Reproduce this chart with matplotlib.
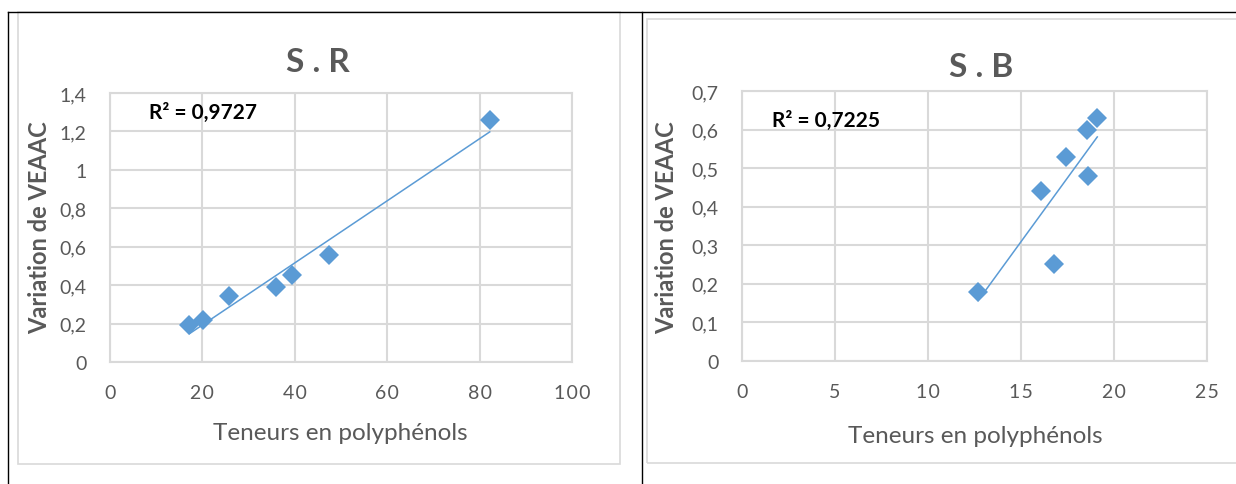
import matplotlib
matplotlib.use('Agg')
import matplotlib.pyplot as plt
import numpy as np
from matplotlib.lines import Line2D
from matplotlib.patches import Rectangle

# data
sr_x = [17.2, 20.2, 25.7, 35.9, 39.3, 47.4, 82.2]
sr_y = [0.19, 0.22, 0.345, 0.39, 0.455, 0.555, 1.26]
sb_x = [12.7, 16.1, 16.8, 17.4, 18.55, 18.6, 19.1]
sb_y = [0.178, 0.44, 0.251, 0.529, 0.60, 0.48, 0.631]

sr_xticks = [0, 20, 40, 60, 80, 100]
sr_yticks = [0, 0.2, 0.4, 0.6, 0.8, 1.0, 1.2, 1.4]
sb_xticks = [0, 5, 10, 15, 20, 25]
sb_yticks = [0, 0.1, 0.2, 0.3, 0.4, 0.5, 0.6, 0.7]

BLUE = '#5b9bd5'
GRID = '#d9d9d9'
TXT = '#595959'
plt.rcParams['font.family'] = ['Lato', 'DejaVu Sans']

W, H = 1236, 485
fig = plt.figure(figsize=(W / 100, H / 100), dpi=100, facecolor='white')


def px(x0, y0, x1, y1):
    # pixel box (top-left origin) -> figure fraction rect
    return [x0 / W, 1 - y1 / H, (x1 - x0) / W, (y1 - y0) / H]


def fmt(v, spaced=False):
    s = ('%g' % v).replace('.', ',')
    if spaced:
        s = '\u200a'.join(s)   # Excel draws these with loose tracking
    return s


def panel(rect, xs, ys, xticks, yticks, title, r2, r2pos, tpos, ylpos, xlpos):
    ax = fig.add_axes(rect)
    ax.set_xlim(xticks[0], xticks[-1])
    ax.set_ylim(yticks[0], yticks[-1])
    ax.set_xticks(xticks)
    ax.set_yticks(yticks)
    ax.set_xticklabels([fmt(v, True) for v in xticks])
    ax.set_yticklabels([fmt(v) for v in yticks])
    ax.tick_params(length=0, labelsize=14, colors=TXT)
    ax.tick_params(axis='x', pad=16)
    ax.tick_params(axis='y', pad=17)
    ax.grid(True, color=GRID, linewidth=1.5)
    ax.set_axisbelow(True)
    for s in ax.spines.values():
        s.set_color(GRID)
        s.set_linewidth(1.5)

    # linear trendline over data range
    a, b = np.polyfit(xs, ys, 1)
    xx = np.array([min(xs), max(xs)])
    ax.plot(xx, a * xx + b, color=BLUE, linewidth=1.1, zorder=2)
    ax.plot(xs, ys, linestyle='none', marker='D', markersize=10,
            color=BLUE, markeredgewidth=0, zorder=3)

    ax.text(r2pos[0], r2pos[1], 'R² = ' + r2, fontsize=15,
            fontweight='bold', color='black', va='center', ha='left')
    fig.text(tpos[0] / W, 1 - tpos[1] / H, title, fontsize=24,
             fontweight='bold', color=TXT, ha='center', va='center')
    fig.text(ylpos[0] / W, 1 - ylpos[1] / H, 'Variation de VEAAC',
             fontsize=17, fontweight='bold', color=TXT, rotation=90,
             ha='center', va='center')
    fig.text(xlpos[0] / W, 1 - xlpos[1] / H, 'Teneurs en polyphénols',
             fontsize=17.5, color=TXT, ha='center', va='center')
    return ax


# document table borders and chart frames
fig.add_artist(Line2D([8 / W, 1], [1 - 13 / H] * 2, color='black', lw=1))
fig.add_artist(Line2D([8 / W] * 2, [0, 1 - 13 / H], color='black', lw=1))
fig.add_artist(Line2D([642 / W] * 2, [0, 1 - 13 / H], color='black', lw=1))
fig.add_artist(Rectangle((18 / W, 1 - 465 / H), 602 / W, 452 / H,
                         fill=False, edgecolor=GRID, lw=1.2))
fig.add_artist(Rectangle((647 / W, 1 - 464 / H), 600 / W, 444 / H,
                         fill=False, edgecolor=GRID, lw=1.2))

panel(px(110, 94, 572, 363), sr_x, sr_y, sr_xticks, sr_yticks, 'S . R',
      '0,9727', (8.5, 1.30), (318, 62), (40, 228), (340, 433))
panel(px(742, 92, 1207, 362), sb_x, sb_y, sb_xticks, sb_yticks, 'S . B',
      '0,7225', (1.6, 0.624), (981, 68), (667, 228), (975, 437))

fig.savefig('out.png', dpi=100, facecolor='white')
